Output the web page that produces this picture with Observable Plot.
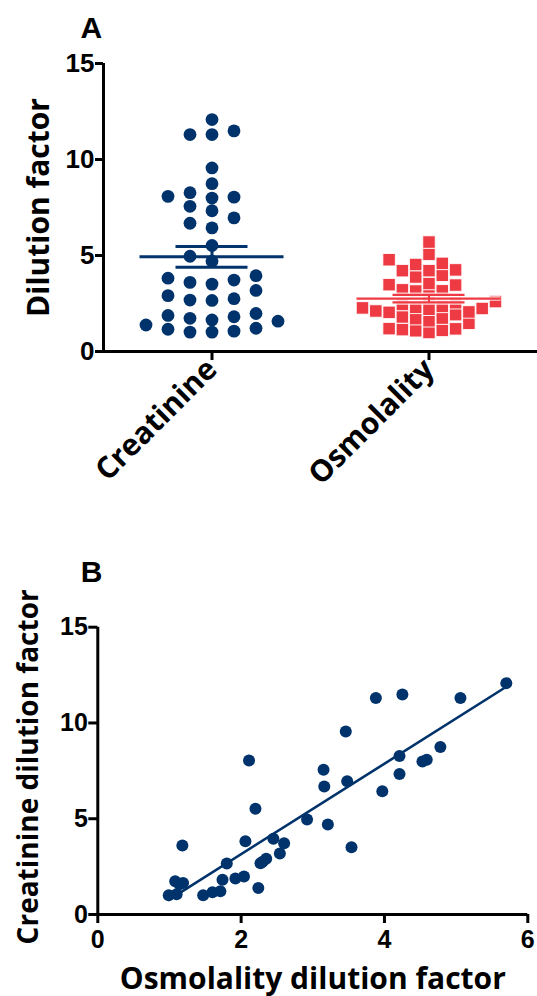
<!DOCTYPE html>
<html>
<head>
<meta charset="utf-8">
<script src="https://cdn.jsdelivr.net/npm/d3@7"></script>
<script src="https://cdn.jsdelivr.net/npm/@observablehq/plot@0.6"></script>
<style>
  html, body { margin: 0; padding: 0; background: #fff; }
  #wrap { position: relative; width: 537px; height: 996px; overflow: hidden; }
  #wrap > div { position: absolute; left: 0; }
</style>
</head>
<body>
<div id="wrap"><div id="pa" style="top:0"></div><div id="pb" style="top:540px"></div></div>
<script>
// ---- data (paired samples) ----
const categories = ["Creatinine", "Osmolality"];
const osmolality = [0.99, 1.10, 1.08, 1.19, 1.14, 1.18, 1.47, 1.60, 1.71, 1.74,
  1.80, 1.92, 2.04, 2.06, 2.11, 2.20, 2.24, 2.27, 2.30, 2.35,
  2.45, 2.54, 2.60, 2.92, 3.21, 3.15, 3.16, 3.48, 3.46, 3.54,
  3.88, 3.97, 4.21, 4.21, 4.25, 4.53, 4.59, 4.78, 5.06, 5.70];
const creatinine = [1.01, 1.06, 1.73, 1.64, 1.58, 3.60, 1.01, 1.16, 1.21, 1.81,
  2.66, 1.88, 1.98, 3.82, 8.04, 5.52, 1.38, 2.68, 2.75, 2.91,
  3.95, 3.18, 3.72, 4.96, 4.70, 7.56, 6.68, 6.96, 9.56, 3.51,
  11.30, 6.44, 8.27, 7.33, 11.49, 7.99, 8.08, 8.74, 11.30, 12.08];
const yTicks = [0, 5, 10, 15];
const xTicksB = [0, 2, 4, 6];

const NAVY = "#00336b";
const RED = "#ee3a43";
const TICKFONT = "Liberation Sans, Arial, sans-serif";
const TITLEFONT = "Open Sans, sans-serif";

// GraphPad-like column scatter: greedy placement into columns
function columnOffsets(values, minGap) {
  const order = d3.range(values.length).sort((a, b) => values[a] - values[b]);
  const cols = new Map();
  const off = new Array(values.length);
  for (const i of order) {
    const v = values[i];
    for (let k = 0; ; k++) {
      const c = k === 0 ? 0 : (k % 2 ? -Math.ceil(k / 2) : k / 2);
      const arr = cols.get(c) || [];
      if (arr.every(u => Math.abs(u - v) >= minGap)) { arr.push(v); cols.set(c, arr); off[i] = c; break; }
    }
  }
  return off;
}

// ---- Panel A ----
const WA = 537, HA = 540, mlA = 103, mtA = 63, mbA = HA - 351;
const pxPerUnitA = (WA - mlA) / 2;
function groupRows(values, gi, colPx, gap) {
  const off = columnOffsets(values, gap);
  return values.map((v, i) => ({ x: gi + 0.5 + off[i] * colPx / pxPerUnitA, y: v, g: categories[gi] }));
}
const rowsC = groupRows(creatinine, 0, 22, 0.6);
const rowsO = groupRows(osmolality, 1, 13.3, 0.58);
function stats(values) {
  const m = d3.mean(values), s = d3.deviation(values) / Math.sqrt(values.length);
  return { m, lo: m - s, hi: m + s };
}
const sC = stats(creatinine), sO = stats(osmolality);
const halfMean = 72 / pxPerUnitA, halfCap = 36 / pxPerUnitA;
function meanMarks(s, c, color, outline) {
  const marks = [];
  const hs = [
    { y: s.m, x1: c - halfMean, x2: c + halfMean },
    { y: s.lo, x1: c - halfCap, x2: c + halfCap },
    { y: s.hi, x1: c - halfCap, x2: c + halfCap }
  ];
  if (outline) {
    marks.push(Plot.ruleY(hs, { y: "y", x1: "x1", x2: "x2", stroke: "white", strokeWidth: 4.5, strokeOpacity: 0.8 }));
    marks.push(Plot.ruleX([c], { y1: s.lo, y2: s.hi, stroke: "white", strokeWidth: 4.5, strokeOpacity: 0.8 }));
  }
  marks.push(Plot.ruleY(hs, { y: "y", x1: "x1", x2: "x2", stroke: color, strokeWidth: outline ? 2.2 : 3 }));
  marks.push(Plot.ruleX([c], { y1: s.lo, y2: s.hi, stroke: color, strokeWidth: outline ? 2.2 : 3 }));
  return marks;
}

const plotA = Plot.plot({
  width: WA, height: HA,
  marginLeft: mlA, marginRight: 0, marginTop: mtA, marginBottom: mbA,
  style: { fontFamily: TICKFONT, color: "black", background: "white" },
  x: { domain: [0, 2], axis: null },
  y: { domain: [0, 15], axis: null },
  marks: [
    Plot.dot(rowsC, { x: "x", y: "y", r: 6.4, fill: NAVY }),
    Plot.dot(rowsO, { x: "x", y: "y", r: 7.05, symbol: "square", fill: RED, stroke: "white", strokeWidth: 0.9 }),
    ...meanMarks(sC, 0.5, NAVY, false),
    ...meanMarks(sO, 1.5, RED, true),
    Plot.ruleX([0], { stroke: "black", strokeWidth: 3 }),
    Plot.ruleY([0], { stroke: "black", strokeWidth: 3 }),
    Plot.axisY({ ticks: yTicks, tickSize: 8, tickPadding: 1, strokeWidth: 3, fontSize: 26, fontWeight: "bold", fontFamily: TICKFONT, label: null }),
    Plot.axisX({ ticks: [0.5, 1.5], tickFormat: d => categories[Math.floor(d)], tickSize: 9, tickPadding: 4,
      strokeWidth: 3, tickRotate: -45, fontSize: 30, fontWeight: "bold", fontFamily: TITLEFONT, label: null }),
    Plot.text(["Dilution factor"], { frameAnchor: "left", dx: -64, rotate: -90, fontSize: 30, fontWeight: "bold",
      fontFamily: TITLEFONT, textAnchor: "middle", lineAnchor: "middle" }),
    Plot.text(["A"], { frameAnchor: "top-left", dx: -23, dy: -26, textAnchor: "start", lineAnchor: "bottom",
      fontSize: 30, fontWeight: "bold", fontFamily: TICKFONT })
  ]
});
document.getElementById("pa").append(plotA);

// ---- Panel B ----
const pairs = osmolality.map((x, i) => ({ x, y: creatinine[i] }));
const HB = 456;
const plotB = Plot.plot({
  width: 537, height: HB,
  marginLeft: 97.3, marginRight: 9.7, marginTop: 86.7, marginBottom: HB - 374,
  style: { fontFamily: TICKFONT, color: "black", background: "white" },
  x: { domain: [0, 6], axis: null },
  y: { domain: [0, 15], axis: null },
  marks: [
    Plot.linearRegressionY(pairs, { x: "x", y: "y", stroke: NAVY, strokeWidth: 2.6, ci: 0 }),
    Plot.dot(pairs, { x: "x", y: "y", r: 6, fill: NAVY }),
    Plot.ruleX([0], { stroke: "black", strokeWidth: 3 }),
    Plot.ruleY([0], { stroke: "black", strokeWidth: 3 }),
    Plot.axisY({ ticks: yTicks, tickSize: 9, tickPadding: 1, strokeWidth: 3, fontSize: 25, fontWeight: "bold", fontFamily: TICKFONT, label: null }),
    Plot.axisX({ ticks: xTicksB, tickFormat: d => String(d), tickSize: 9, tickPadding: 7, strokeWidth: 3, fontSize: 25, fontWeight: "bold", fontFamily: TICKFONT, label: null }),
    Plot.text(["Creatinine dilution factor"], { frameAnchor: "left", dx: -69, dy: -4, rotate: -90, fontSize: 28, fontWeight: "bold",
      fontFamily: TITLEFONT, textAnchor: "middle", lineAnchor: "middle" }),
    Plot.text(["Osmolality dilution factor"], { frameAnchor: "bottom", dy: 74, textAnchor: "middle", lineAnchor: "bottom",
      fontSize: 30, fontWeight: "bold", fontFamily: TITLEFONT }),
    Plot.text(["B"], { frameAnchor: "top-left", dx: -17, dy: -45.7, textAnchor: "start", lineAnchor: "bottom",
      fontSize: 30, fontWeight: "bold", fontFamily: TICKFONT })
  ]
});
document.getElementById("pb").append(plotB);
</script>
</body>
</html>
